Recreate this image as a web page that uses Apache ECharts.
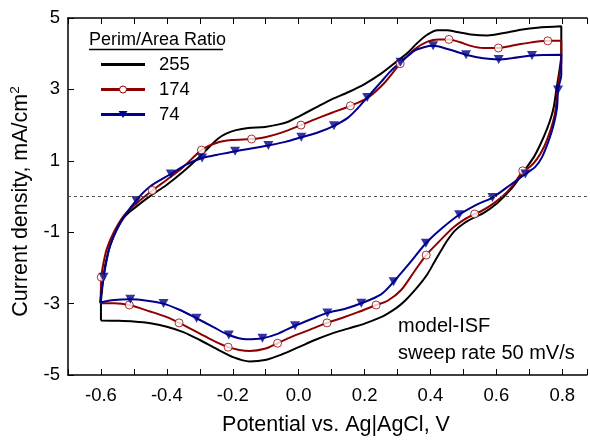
<!DOCTYPE html>
<html><head><meta charset="utf-8">
<script src="https://cdn.jsdelivr.net/npm/echarts@6/dist/echarts.min.js"></script>
<style>html,body{margin:0;padding:0;background:#fff}#c{width:590px;height:441px}</style>
</head><body><div id="c"></div>
<script>
const seriesNames = ['255', '174', '74'];
const legendTitle = 'Perim/Area Ratio';
const notes = ['model-ISF', 'sweep rate 50 mV/s'];
const xTickLabels = ['-0.6', '-0.4', '-0.2', '0.0', '0.2', '0.4', '0.6', '0.8'];

const curve255 = [
[-0.600,-3.47],[-0.600,-3.00],[-0.597,-2.65],[-0.592,-2.25],[-0.587,-1.92],[-0.572,-1.37],[-0.551,-0.91],[-0.526,-0.54],[-0.491,-0.27],[-0.451,0.01],[-0.400,0.33],[-0.350,0.70],[-0.300,1.12],[-0.270,1.40],[-0.245,1.62],[-0.220,1.76],[-0.190,1.86],[-0.153,1.92],[-0.102,1.95],[-0.060,2.02],[-0.030,2.10],[0.000,2.24],[0.050,2.48],[0.100,2.72],[0.150,2.92],[0.200,3.15],[0.250,3.44],[0.300,3.80],[0.330,4.02],[0.360,4.30],[0.390,4.53],[0.421,4.66],[0.450,4.66],[0.480,4.61],[0.522,4.54],[0.573,4.51],[0.623,4.58],[0.674,4.67],[0.724,4.73],[0.797,4.77],
[0.797,4.00],[0.790,3.45],[0.782,3.00],[0.775,2.55],[0.767,2.25],[0.754,1.90],[0.734,1.47],[0.714,1.11],[0.693,0.83],[0.673,0.56],[0.643,0.19],[0.603,-0.18],[0.563,-0.45],[0.530,-0.60],[0.502,-0.75],[0.475,-0.95],[0.452,-1.22],[0.430,-1.55],[0.411,-1.85],[0.391,-2.17],[0.371,-2.42],[0.350,-2.65],[0.325,-2.90],[0.300,-3.10],[0.270,-3.28],[0.250,-3.38],[0.200,-3.56],[0.150,-3.70],[0.100,-3.84],[0.049,-4.02],[0.000,-4.22],[-0.050,-4.42],[-0.098,-4.57],[-0.149,-4.62],[-0.199,-4.50],[-0.249,-4.27],[-0.300,-4.02],[-0.350,-3.80],[-0.400,-3.65],[-0.450,-3.55],[-0.501,-3.50],[-0.550,-3.48],[-0.600,-3.47]
];
const curve174 = [
[-0.602,-2.99],[-0.600,-2.60],[-0.599,-2.26],[-0.592,-1.85],[-0.582,-1.46],[-0.561,-1.00],[-0.531,-0.54],[-0.491,-0.18],[-0.444,0.17],[-0.400,0.47],[-0.350,0.83],[-0.295,1.30],[-0.250,1.50],[-0.203,1.58],[-0.143,1.61],[-0.102,1.66],[-0.052,1.79],[0.007,2.00],[0.049,2.16],[0.099,2.34],[0.157,2.54],[0.210,2.77],[0.260,3.18],[0.308,3.72],[0.351,4.12],[0.391,4.34],[0.425,4.40],[0.456,4.40],[0.490,4.32],[0.522,4.22],[0.560,4.16],[0.606,4.16],[0.640,4.21],[0.674,4.27],[0.756,4.36],[0.797,4.36],
[0.797,3.80],[0.790,3.30],[0.785,2.90],[0.779,2.40],[0.772,2.10],[0.762,1.80],[0.744,1.38],[0.724,1.06],[0.703,0.84],[0.680,0.70],[0.653,0.35],[0.623,0.04],[0.583,-0.25],[0.552,-0.42],[0.534,-0.49],[0.500,-0.66],[0.470,-0.86],[0.452,-1.02],[0.420,-1.32],[0.387,-1.64],[0.351,-2.10],[0.311,-2.62],[0.270,-2.92],[0.235,-3.04],[0.180,-3.24],[0.129,-3.41],[0.086,-3.54],[0.029,-3.75],[-0.022,-3.93],[-0.064,-4.11],[-0.100,-4.26],[-0.149,-4.33],[-0.180,-4.30],[-0.214,-4.22],[-0.250,-4.08],[-0.300,-3.84],[-0.363,-3.54],[-0.400,-3.38],[-0.451,-3.22],[-0.514,-3.04],[-0.560,-2.99],[-0.602,-2.99]
];
const curve74 = [
[-0.602,-2.97],[-0.598,-2.62],[-0.592,-2.26],[-0.583,-1.80],[-0.572,-1.37],[-0.541,-0.73],[-0.493,-0.11],[-0.451,0.28],[-0.388,0.63],[-0.340,0.90],[-0.293,1.08],[-0.250,1.16],[-0.193,1.27],[-0.140,1.35],[-0.092,1.43],[-0.040,1.53],[0.008,1.66],[0.060,1.80],[0.107,1.98],[0.150,2.21],[0.180,2.48],[0.208,2.77],[0.250,3.21],[0.280,3.52],[0.309,3.76],[0.351,4.08],[0.380,4.18],[0.408,4.22],[0.452,4.13],[0.508,3.97],[0.560,3.87],[0.607,3.84],[0.650,3.88],[0.708,3.95],[0.797,3.97],
[0.797,3.40],[0.791,3.15],[0.787,2.98],[0.784,2.48],[0.774,2.02],[0.759,1.57],[0.739,1.11],[0.718,0.83],[0.688,0.63],[0.643,0.33],[0.588,-0.03],[0.542,-0.22],[0.487,-0.51],[0.432,-0.91],[0.386,-1.31],[0.341,-1.82],[0.288,-2.39],[0.250,-2.74],[0.190,-2.99],[0.139,-3.15],[0.087,-3.26],[0.039,-3.43],[-0.011,-3.62],[-0.062,-3.84],[-0.110,-3.97],[-0.159,-4.00],[-0.212,-3.88],[-0.260,-3.65],[-0.310,-3.41],[-0.360,-3.18],[-0.410,-3.00],[-0.460,-2.92],[-0.511,-2.88],[-0.560,-2.90],[-0.602,-2.97]
];
const markers174 = [
[-0.599,-2.26],[-0.444,0.17],[-0.295,1.30],[-0.143,1.61],[0.007,2.00],[0.157,2.54],[0.308,3.72],[0.456,4.40],[0.606,4.16],[0.756,4.36],[0.680,0.72],[0.534,-0.49],[0.387,-1.64],[0.235,-3.04],[0.086,-3.54],[-0.064,-4.11],[-0.214,-4.22],[-0.363,-3.54],[-0.514,-3.04]
];
const markers74 = [
[-0.592,-2.26],[-0.493,-0.11],[-0.388,0.63],[-0.293,1.08],[-0.193,1.27],[-0.092,1.43],[0.008,1.66],[0.107,1.98],[0.208,2.77],[0.309,3.76],[0.408,4.22],[0.508,3.97],[0.607,3.84],[0.708,3.95],[0.787,2.98],[0.688,0.63],[0.588,-0.03],[0.487,-0.51],[0.386,-1.31],[0.288,-2.39],[0.190,-2.99],[0.087,-3.26],[-0.011,-3.62],[-0.110,-3.97],[-0.212,-3.88],[-0.310,-3.41],[-0.410,-3.00],[-0.511,-2.88]
];

const FONT = 'Liberation Sans, Arial, Helvetica, sans-serif';
const BLACK = '#000000', RED = '#8e0000', BLUE = '#00008c';

const chart = echarts.init(document.getElementById('c'), null, {renderer: 'canvas'});

const axisCommon = {
  type: 'value', min: -0.7, max: 0.875, interval: 0.1,
  axisLine: {show: true, onZero: false, lineStyle: {color: '#000', width: 1.5}},
  axisTick: {show: true, inside: true, length: 6, lineStyle: {color: '#000', width: 1}},
  splitLine: {show: false}
};

const option = {
  animation: false,
  backgroundColor: '#fff',
  textStyle: {fontFamily: FONT},
  grid: {left: 68, right: 0, top: 18, bottom: 59, containLabel: false},
  xAxis: [
    Object.assign({}, axisCommon, {
      position: 'bottom',
      name: 'Potential vs. Ag|AgCl, V',
      nameLocation: 'middle', nameGap: 39,
      nameTextStyle: {fontSize: 21.5, color: '#000', fontFamily: FONT, padding: [0, 0, 0, 17]},
      axisLabel: {
        show: true, margin: 11, fontSize: 18.5, color: '#000', fontFamily: FONT,
        showMinLabel: true, showMaxLabel: true,
        formatter: function (v) {
          const s = (Math.round(v * 10) / 10).toFixed(1);
          return xTickLabels.indexOf(s) >= 0 ? s : '';
        }
      }
    }),
    Object.assign({}, axisCommon, {
      position: 'top',
      axisLabel: {show: false}
    })
  ],
  yAxis: [{
    type: 'value', min: -5, max: 5, interval: 2,
    name: 'Current density, mA/cm{sup|2}',
    nameLocation: 'middle', nameGap: 27,
    nameTextStyle: {fontSize: 21.5, color: '#000', fontFamily: FONT, lineHeight: 24, padding: [0, 10, 0, 0],
      rich: {sup: {fontSize: 13.5, verticalAlign: 'top', lineHeight: 24, fontFamily: FONT, color: '#000'}}},
    axisLine: {show: true, onZero: false, lineStyle: {color: '#000', width: 1.5}},
    axisTick: {show: true, inside: true, length: 6, lineStyle: {color: '#000', width: 1}},
    axisLabel: {show: true, margin: 8, fontSize: 18.5, color: '#000', fontFamily: FONT},
    splitLine: {show: false}
  }],
  series: [
    {
      type: 'line', name: seriesNames[0], data: curve255, xAxisIndex: 0,
      symbol: 'none', showSymbol: false, smooth: 0.3,
      lineStyle: {color: BLACK, width: 2}, z: 2,
      markLine: {
        silent: true, symbol: 'none', label: {show: false},
        lineStyle: {color: '#555', width: 1, type: [3, 3]},
        data: [{yAxis: 0}]
      }
    },
    {
      type: 'line', name: seriesNames[1], data: curve174,
      symbol: 'none', showSymbol: false, smooth: 0.3,
      lineStyle: {color: RED, width: 2}, z: 2
    },
    {
      type: 'scatter', name: seriesNames[1] + ' markers', data: markers174,
      symbol: 'circle', symbolSize: 8,
      itemStyle: {color: '#fff', borderColor: RED, borderWidth: 1}, z: 2
    },
    {
      type: 'line', name: seriesNames[2], data: curve74,
      symbol: 'none', showSymbol: false, smooth: 0.3,
      lineStyle: {color: BLUE, width: 2}, z: 2
    },
    {
      type: 'scatter', name: seriesNames[2] + ' markers', data: markers74,
      symbol: 'triangle', symbolRotate: 180, symbolSize: [10, 9],
      itemStyle: {color: BLUE}, z: 2
    }
  ],
  graphic: [
    {type: 'text', x: 89, y: 40, style: {text: legendTitle, font: '18px ' + FONT, fill: '#000', verticalAlign: 'middle'}},
    {type: 'line', shape: {x1: 89, y1: 49.5, x2: 223, y2: 49.5}, style: {stroke: '#000', lineWidth: 1.5}},
    {type: 'line', shape: {x1: 101, y1: 64.5, x2: 145, y2: 64.5}, style: {stroke: BLACK, lineWidth: 3}},
    {type: 'line', shape: {x1: 101, y1: 89.5, x2: 145, y2: 89.5}, style: {stroke: RED, lineWidth: 3}},
    {type: 'circle', shape: {cx: 123, cy: 89.5, r: 3.5}, style: {fill: '#fff', stroke: RED, lineWidth: 1}},
    {type: 'line', shape: {x1: 101, y1: 114.5, x2: 145, y2: 114.5}, style: {stroke: BLUE, lineWidth: 3}},
    {type: 'polygon', shape: {points: [[118.5, 111], [127.5, 111], [123, 118]]}, style: {fill: BLUE}},
    {type: 'text', x: 159, y: 64.5, style: {text: seriesNames[0], font: '18.5px ' + FONT, fill: '#000', verticalAlign: 'middle'}},
    {type: 'text', x: 159, y: 89.5, style: {text: seriesNames[1], font: '18.5px ' + FONT, fill: '#000', verticalAlign: 'middle'}},
    {type: 'text', x: 159, y: 114.5, style: {text: seriesNames[2], font: '18.5px ' + FONT, fill: '#000', verticalAlign: 'middle'}},
    {type: 'text', x: 398, y: 326, style: {text: notes[0], font: '20px ' + FONT, fill: '#000', verticalAlign: 'middle'}},
    {type: 'text', x: 398, y: 353, style: {text: notes[1], font: '20px ' + FONT, fill: '#000', verticalAlign: 'middle'}}
  ]
};
chart.setOption(option);
</script>
</body></html>
